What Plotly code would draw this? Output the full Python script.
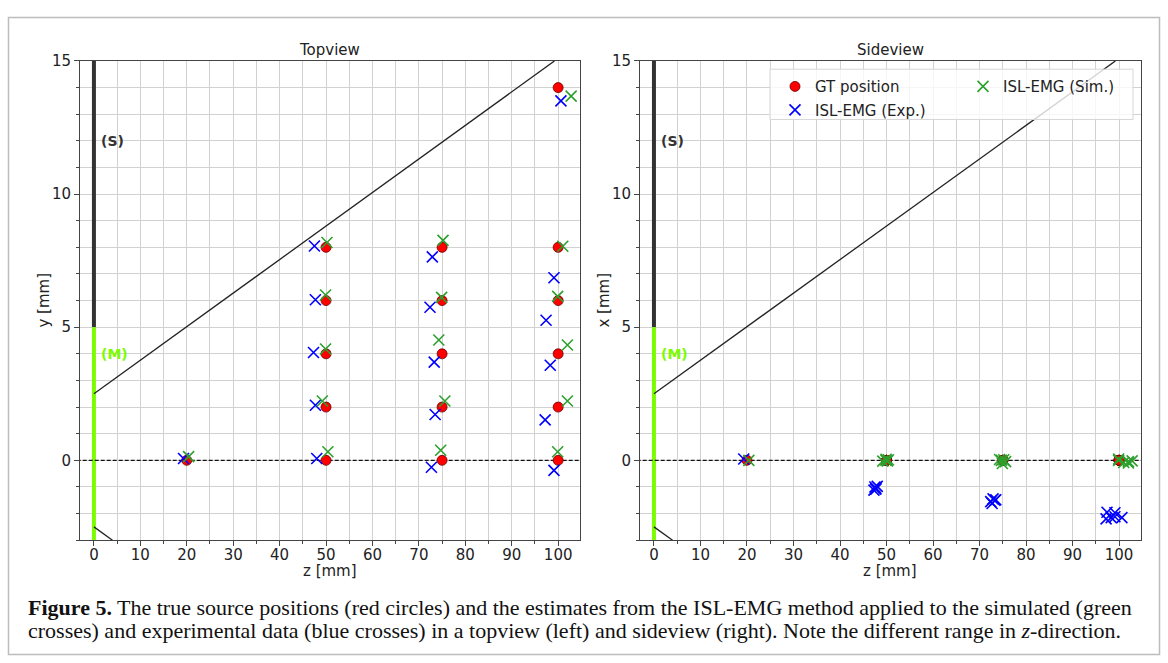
import plotly.graph_objects as go

W, H = 1168, 663

# ---------------- data ----------------
gt_z = [20, 50, 50, 50, 50, 50, 75, 75, 75, 75, 75, 100, 100, 100, 100, 100, 100]
gt_y = [0, 0, 2, 4, 6, 8, 0, 2, 4, 6, 8, 0, 2, 4, 6, 8, 14]
gt_x = [0, 0, 0, 0, 0, 0, 0, 0, 0, 0, 0, 0, 0, 0, 0, 0, 0]

exp_z = [19.3, 48.0, 47.7, 47.3, 47.7, 47.5, 72.7, 73.5, 73.3, 72.4, 72.9, 99.1, 97.2, 98.3, 97.4, 99.1, 100.6]
exp_y = [0.07, 0.07, 2.07, 4.05, 6.03, 8.05, -0.26, 1.72, 3.69, 5.75, 7.64, -0.38, 1.52, 3.57, 5.26, 6.86, 13.5]
exp_x = [0.05, -0.98, -1.05, -1.12, -1.08, -1.0, -1.62, -1.48, -1.5, -1.55, -1.45, -2.12, -2.2, -2.15, -1.95, -1.97, -2.15]

sim_z = [20.4, 50.4, 49.2, 49.9, 49.9, 50.2, 74.7, 75.6, 74.3, 74.9, 75.2, 99.9, 102.0, 102.0, 99.9, 101.0, 102.8]
sim_y = [0.14, 0.32, 2.23, 4.18, 6.21, 8.18, 0.38, 2.23, 4.52, 6.12, 8.26, 0.32, 2.23, 4.33, 6.16, 8.04, 13.68]
sim_x = [0.0, 0.02, -0.03, 0.0, 0.04, -0.02, 0.0, -0.05, 0.03, -0.12, 0.02, 0.0, -0.05, -0.1, 0.05, -0.08, -0.02]

# geometry guides
fov_up_z = [0, 99.2]
fov_up_y = [2.5, 15]
fov_lo_z = [0, 4]
fov_lo_y = [-2.5, -3]
det_s_z = [0, 0]
det_s_y = [5, 16]
det_m_z = [0, 0]
det_m_y = [-4, 5]
zero_z = [-5, 110]
zero_y = [0, 0]

x_ticks = [0, 10, 20, 30, 40, 50, 60, 70, 80, 90, 100]
y_ticks = [0, 5, 10, 15]

# ---------------- helpers ----------------
def px(x):
    return x / W

def py(y):
    return 1 - y / H

FONT = "DejaVu Sans"
GREEN_DET = "#7CFC00"
RED = "#ff0000"
BLUE = "#0000ff"
GREEN = "#2ca02c"

fig = go.Figure()

panels = [("x", "y", gt_y, exp_y, sim_y), ("x2", "y2", gt_x, exp_x, sim_x)]
for i, (xa, ya, g, e, s) in enumerate(panels):
    fig.add_trace(go.Scatter(x=det_s_z, y=det_s_y, mode="lines", xaxis=xa, yaxis=ya,
                             line=dict(color="#333333", width=4), showlegend=False, hoverinfo="skip"))
    fig.add_trace(go.Scatter(x=det_m_z, y=det_m_y, mode="lines", xaxis=xa, yaxis=ya,
                             line=dict(color=GREEN_DET, width=4), showlegend=False, hoverinfo="skip"))
    fig.add_trace(go.Scatter(x=fov_up_z, y=fov_up_y, mode="lines", xaxis=xa, yaxis=ya,
                             line=dict(color="#222222", width=1.3), showlegend=False, hoverinfo="skip"))
    fig.add_trace(go.Scatter(x=fov_lo_z, y=fov_lo_y, mode="lines", xaxis=xa, yaxis=ya,
                             line=dict(color="#222222", width=1.3), showlegend=False, hoverinfo="skip"))
    fig.add_trace(go.Scatter(x=zero_z, y=zero_y, mode="lines", xaxis=xa, yaxis=ya,
                             line=dict(color="#111111", width=1.2, dash="4px,2px"),
                             showlegend=False, hoverinfo="skip"))
    fig.add_trace(go.Scatter(x=gt_z, y=g, mode="markers", xaxis=xa, yaxis=ya, name="GT position",
                             marker=dict(symbol="circle", size=10, color=RED,
                                         line=dict(color="#6a0000", width=0.8)),
                             showlegend=(i == 1), legend="legend", legendgroup="gt", legendrank=1))
    fig.add_trace(go.Scatter(x=exp_z, y=e, mode="markers", xaxis=xa, yaxis=ya, name="ISL-EMG (Exp.)",
                             marker=dict(symbol="x-thin-open", size=11, color=BLUE,
                                         line=dict(color=BLUE, width=1.6)),
                             showlegend=(i == 1), legend="legend", legendgroup="exp", legendrank=2))
    fig.add_trace(go.Scatter(x=sim_z, y=s, mode="markers", xaxis=xa, yaxis=ya, name="ISL-EMG (Sim.)",
                             marker=dict(symbol="x-thin-open", size=11, color=GREEN,
                                         line=dict(color=GREEN, width=1.6)),
                             showlegend=(i == 1), legend="legend2", legendgroup="sim", legendrank=3))

grid_col = "#d2d2d2"
spine_col = "#444444"
tickfont = dict(family=FONT, size=15, color="#222222")

xcommon = dict(range=[-3, 104.6], tickmode="array", tickvals=x_ticks, ticks="outside", ticklen=5,
               tickcolor=spine_col, showline=True, linecolor=spine_col, linewidth=1, mirror=True,
               showgrid=True, gridcolor=grid_col, gridwidth=1, zeroline=False, tickfont=tickfont,
               ticklabelstandoff=-4,
               minor=dict(dtick=5, tick0=0, showgrid=True, gridcolor=grid_col, gridwidth=1,
                          ticks="outside", ticklen=3, tickcolor=spine_col))
ycommon = dict(range=[-3, 15], tickmode="array", tickvals=y_ticks, ticks="outside", ticklen=5,
               tickcolor=spine_col, showline=True, linecolor=spine_col, linewidth=1, mirror=True,
               showgrid=True, gridcolor=grid_col, gridwidth=1, zeroline=False, tickfont=tickfont,
               minor=dict(dtick=1, tick0=0, showgrid=True, gridcolor=grid_col, gridwidth=1,
                          ticks="outside", ticklen=3, tickcolor=spine_col))

ydom = [py(538.5), py(52.7)]
fig.update_layout(
    xaxis=dict(domain=[px(80), px(579.5)], anchor="y", **xcommon),
    yaxis=dict(domain=ydom, anchor="x", **ycommon),
    xaxis2=dict(domain=[px(640), px(1140.5)], anchor="y2", **xcommon),
    yaxis2=dict(domain=ydom, anchor="x2", **ycommon),
)

annotations = []
def ann(text, x, y, size=15, xanchor="center", yanchor="middle", textangle=0, color="#222222",
        family=FONT, xref="paper", yref="paper"):
    annotations.append(dict(text=text, x=x, y=y, xref=xref, yref=yref, showarrow=False,
                            xanchor=xanchor, yanchor=yanchor, textangle=textangle,
                            font=dict(family=family, size=size, color=color)))

ann("Topview", px(329.7), py(42), size=15)
ann("Sideview", px(890.2), py(42), size=15)
ann("z [mm]", px(329.7), py(570), size=15)
ann("z [mm]", px(890.2), py(570), size=15)
ann("y [mm]", px(44), py(295.6), size=15, textangle=-90)
ann("x [mm]", px(604), py(295.6), size=15, textangle=-90)
for xr, yr in [("x", "y"), ("x2", "y2")]:
    ann("<b>(S)</b>", 1.0, 12, size=14, xanchor="left", color="#333333", xref=xr, yref=yr)
    ann("<b>(M)</b>", 1.0, 4, size=14, xanchor="left", color=GREEN_DET, xref=xr, yref=yr)

ann("<b>Figure 5.</b> The true source positions (red circles) and the estimates from the ISL-EMG method applied to the simulated (green",
    px(26), py(607), size=22, xanchor="left", family="Liberation Serif", color="#111111")
ann("crosses) and experimental data (blue crosses) in a topview (left) and sideview (right). Note the different range in <i>z</i>-direction.",
    px(26), py(630), size=22, xanchor="left", family="Liberation Serif", color="#111111")

shapes = [
    dict(type="rect", xref="paper", yref="paper", x0=px(8.5), x1=px(1159.5), y0=py(654.5), y1=py(8.5),
         line=dict(color="#bdbdbd", width=1.5), fillcolor="rgba(0,0,0,0)", layer="below"),
    dict(type="rect", xref="paper", yref="paper", x0=px(770), x1=px(1133), y0=py(112), y1=py(61),
         line=dict(color="#d6d6d6", width=1), fillcolor="rgba(255,255,255,0.8)", layer="above"),
]

legfont = dict(family=FONT, size=15, color="#222222")
fig.update_layout(
    width=W, height=H, margin=dict(l=0, r=0, t=0, b=0),
    paper_bgcolor="white", plot_bgcolor="white",
    annotations=annotations, shapes=shapes,
    legend=dict(x=px(775), y=py(62), xanchor="left", yanchor="top", bgcolor="rgba(0,0,0,0)",
                font=legfont, traceorder="grouped", tracegroupgap=1, itemclick=False),
    legend2=dict(x=px(963), y=py(62), xanchor="left", yanchor="top", bgcolor="rgba(0,0,0,0)",
                 font=legfont, itemclick=False),
    showlegend=True,
)

fig.write_html("out.html", config={"displayModeBar": False})
